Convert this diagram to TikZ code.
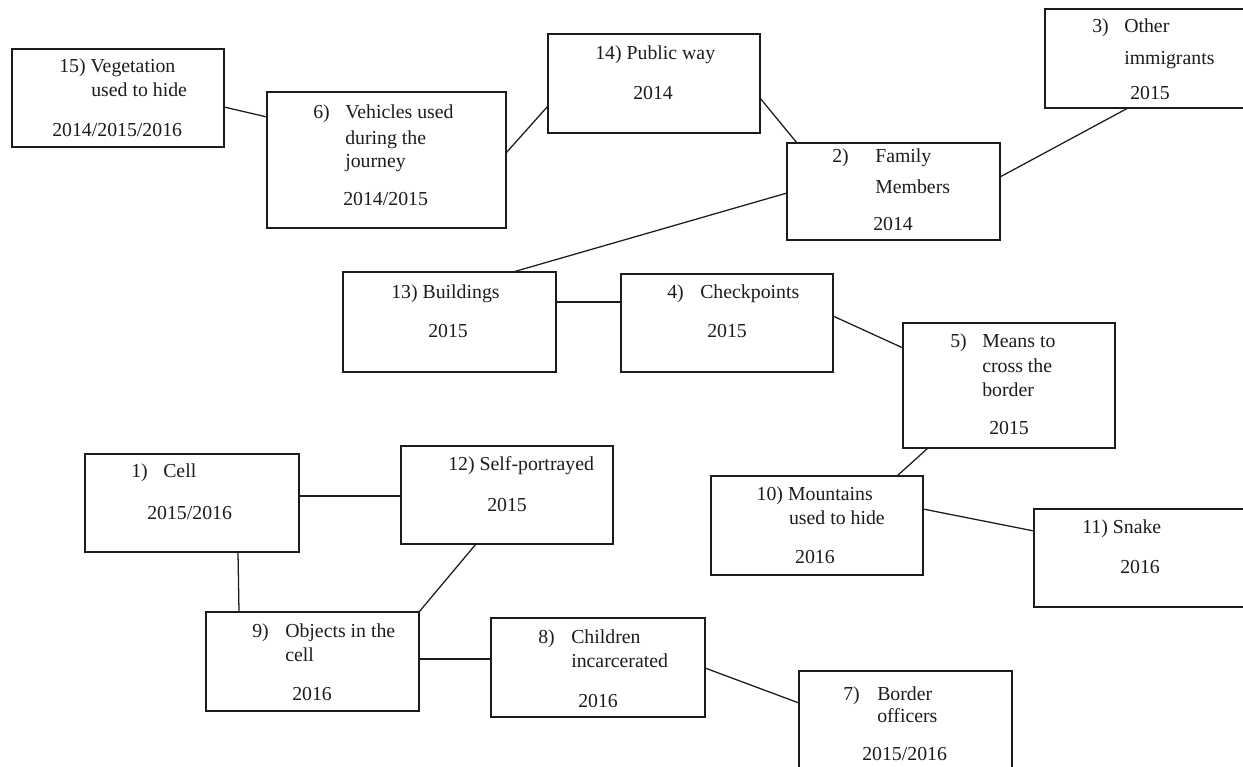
\documentclass[tikz,border=0pt]{standalone}
\usepackage{fontspec}
\setmainfont{Liberation Serif}
\usetikzlibrary{calc}
\definecolor{ink}{HTML}{1C1C1C}
\newcommand\lbfont{\fontsize{14.85}{18}\selectfont}
% box: name, left, top, right, bottom (pixel-like units)
\newcommand\mkbox[5]{%
  \node[box, minimum width={((#4)-(#2))*0.75pt}, minimum height={((#5)-(#3))*0.75pt}] (#1) at (#2,#3) {};}
\tikzset{
  box/.style={draw=ink, line width=1.05pt, inner sep=0pt, outer sep=0pt, anchor=north west},
  lbl/.style={anchor=base west, inner sep=0pt, text=ink, font=\lbfont},
  lble/.style={lbl, anchor=base east},
  link/.style={draw=ink, line width=0.95pt},
}
\begin{document}
\begin{tikzpicture}[x=0.75pt, y=-0.75pt]
\useasboundingbox (0,0) rectangle (1243,767);
\clip (0,0) rectangle (1243,767);
\fill[white] (0,0) rectangle (1243,767);

% boxes
\mkbox{n15}{12}{49}{224}{147}
\mkbox{n6}{267}{92}{506}{228}
\mkbox{n14}{548}{34}{760}{133}
\mkbox{n3}{1045}{9}{1252}{108}
\mkbox{n2}{787}{143}{1000}{240}
\mkbox{n13}{343}{272}{556}{372}
\mkbox{n4}{621}{274}{833}{372}
\mkbox{n5}{903}{323}{1115}{448}
\mkbox{n10}{711}{476}{923}{575}
\mkbox{n11}{1034}{509}{1252}{607}
\mkbox{n1}{85}{454}{299}{552}
\mkbox{n12}{401}{446}{613}{544}
\mkbox{n9}{206}{612}{419}{711}
\mkbox{n8}{491}{618}{705}{717}
\mkbox{n7}{799}{671}{1012}{780}

% labels
\node[lbl] (t15a) at (59,73) {15) Vegetation};
\node[lbl] (t15b) at (91,97) {used to hide};
\node[lbl] (t15c) at (52,137) {2014/2015/2016};

\node[lbl] (t6n) at (313,118) {6)};
\node[lbl] (t6a) at (345,118) {Vehicles used};
\node[lbl] (t6b) at (345,144) {during the};
\node[lbl] (t6c) at (345,167) {journey};
\node[lbl] (t6d) at (343,205) {2014/2015};

\node[lbl] (t14a) at (595,60) {14) Public way};
\node[lbl] (t14b) at (633,99) {2014};

\node[lbl] (t3n) at (1092,33) {3)};
\node[lbl] (t3a) at (1124,33) {Other};
\node[lbl] (t3b) at (1124,65) {immigrants};
\node[lbl] (t3c) at (1130,100) {2015};

\node[lbl] (t2n) at (832,162) {2)};
\node[lbl] (t2a) at (875,162) {Family};
\node[lbl] (t2b) at (875,193) {Members};
\node[lbl] (t2c) at (873,230) {2014};

\node[lbl] (t13a) at (391,298) {13) Buildings};
\node[lbl] (t13b) at (428,337) {2015};

\node[lbl] (t4n) at (667,298) {4)};
\node[lbl] (t4a) at (700,298) {Checkpoints};
\node[lbl] (t4b) at (707,337) {2015};

\node[lbl] (t5n) at (950,347) {5)};
\node[lbl] (t5a) at (982,347) {Means to};
\node[lbl] (t5b) at (982,372) {cross the};
\node[lbl] (t5c) at (982,396) {border};
\node[lbl] (t5d) at (989,434) {2015};

\node[lble] (t10a) at (873,500) {10) Mountains};
\node[lble] (t10b) at (885,524) {used to hide};
\node[lble] (t10c) at (835,563) {2016};

\node[lbl] (t11a) at (1082,533) {11) Snake};
\node[lbl] (t11b) at (1120,573) {2016};

\node[lbl] (t1n) at (131,477) {1)};
\node[lbl] (t1a) at (163,477) {Cell};
\node[lbl] (t1b) at (147,519) {2015/2016};

\node[lbl] (t12a) at (448,470) {12) Self-portrayed};
\node[lbl] (t12b) at (487,511) {2015};

\node[lbl] (t9n) at (252,637) {9)};
\node[lbl] (t9a) at (285,637) {Objects in the};
\node[lbl] (t9b) at (285,661) {cell};
\node[lbl] (t9c) at (292,700) {2016};

\node[lbl] (t8n) at (538,643) {8)};
\node[lbl] (t8a) at (571,643) {Children};
\node[lbl] (t8b) at (571,667) {incarcerated};
\node[lbl] (t8c) at (578,707) {2016};

\node[lbl] (t7n) at (843,700) {7)};
\node[lbl] (t7a) at (877,700) {Border};
\node[lbl] (t7b) at (877,722) {officers};
\node[lbl] (t7c) at (862,760) {2015/2016};

% connectors
\draw[link] ($(n15.north east)+(0,58)$) -- ($(n6.north west)+(0,25)$);
\draw[link] ($(n6.north east)+(0,61)$) -- ($(n14.north west)+(0,72)$);
\draw[link] ($(n14.north east)+(0,64)$) -- ($(n2.north west)+(10,0)$);
\draw[link] ($(n2.north east)+(0,34)$) -- ($(n3.south west)+(83,0)$);
\draw[link] ($(n2.north west)+(0,50)$) -- ($(n13.north west)+(170,0)$);
\draw[link] ($(n13.north east)+(0,30)$) -- ($(n4.north west)+(0,28)$);
\draw[link] ($(n4.north east)+(0,42)$) -- ($(n5.north west)+(0,25)$);
\draw[link] ($(n5.south west)+(25,0)$) -- ($(n10.north east)+(-26,0)$);
\draw[link] ($(n10.north east)+(0,33)$) -- ($(n11.north west)+(0,22)$);
\draw[link] ($(n1.north east)+(0,42)$) -- ($(n12.north west)+(0,50)$);
\draw[link] ($(n1.south west)+(153,0)$) -- ($(n9.north west)+(33,0)$);
\draw[link] ($(n12.south west)+(75,0)$) -- (n9.north east);
\draw[link] ($(n9.north east)+(0,47)$) -- ($(n8.north west)+(0,41)$);
\draw[link] ($(n8.north east)+(0,50)$) -- ($(n7.north west)+(0,32)$);
\end{tikzpicture}
\end{document}
